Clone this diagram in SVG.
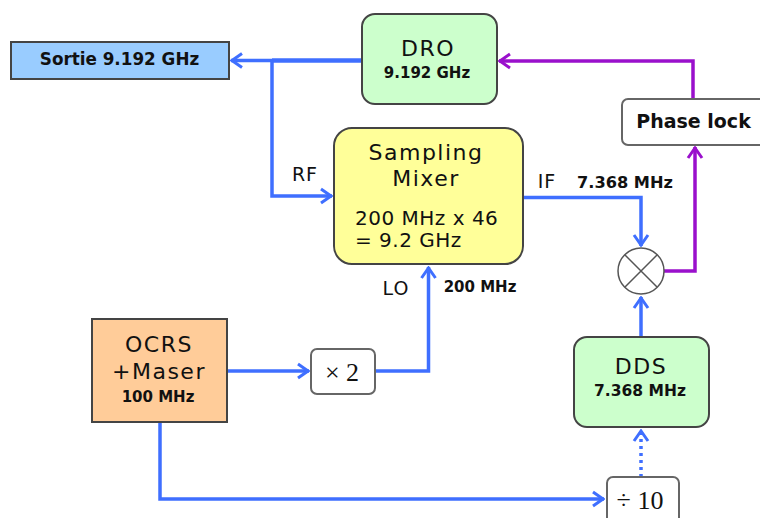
<svg xmlns="http://www.w3.org/2000/svg" width="760" height="518" viewBox="0 0 760 518">
<style>
text{font-family:"DejaVu Sans",Verdana,sans-serif;fill:#111;text-anchor:middle}
.n{font-size:22px;letter-spacing:1.500px}
.m{font-size:20px;letter-spacing:.5px;text-anchor:start}
.b{font-size:15px;font-weight:bold}
.l{font-size:19px;letter-spacing:1px}
.s{font-family:"Liberation Serif",serif;font-size:26px}
.box{stroke:#444;stroke-width:2}
.w{stroke:#666;stroke-width:2;fill:#fff}
.c{fill:none;stroke-width:3.500}
.blue{stroke:#3f6fff}
.pur{stroke:#9a10cc}
</style>
<defs>
<marker id="ab" viewBox="0 0 14 18" refX="13" refY="9" markerWidth="14" markerHeight="18" markerUnits="userSpaceOnUse" orient="auto"><path d="M2 2L12 9L2 16" fill="none" stroke="#3f6fff" stroke-width="3"/></marker>
<marker id="ap" viewBox="0 0 14 18" refX="13" refY="9" markerWidth="14" markerHeight="18" markerUnits="userSpaceOnUse" orient="auto"><path d="M2 2L12 9L2 16" fill="none" stroke="#9a10cc" stroke-width="3"/></marker>
</defs>
<rect width="760" height="518" fill="#fff"/>
<g id="connectors">
<path class="c blue" d="M362 60.500H272" style="stroke-width:4.500"/>
<path class="c blue" d="M272 60.500H231" marker-end="url(#ab)"/>
<path class="c blue" d="M272 60.500V196H332" marker-end="url(#ab)"/>
<path class="c blue" d="M523 197.500H641V246" marker-end="url(#ab)"/>
<path class="c blue" d="M228 371H309" marker-end="url(#ab)"/>
<path class="c blue" d="M375 371H428.500V267" marker-end="url(#ab)"/>
<path class="c blue" d="M160 423V499H604" marker-end="url(#ab)"/>
<path class="c blue" d="M641 337V297" marker-end="url(#ab)"/>
<path class="c blue" d="M641 477V430" stroke-dasharray="3 4" marker-end="url(#ab)"/>
<path class="c pur" d="M664 271H695V147" marker-end="url(#ap)"/>
<path class="c pur" d="M693 99V61H499" marker-end="url(#ap)"/>
</g>
<g id="sortie"><rect class="box" x="11" y="42" width="218" height="37" fill="#99ccff"/><text class="b" x="119.500" y="65" style="font-size:16.800px">Sortie 9.192 GHz</text></g>
<g id="dro"><rect class="box" x="362" y="14" width="135" height="90" rx="13" fill="#ccffcc"/><text class="n" x="428" y="56">DRO</text><text class="b" x="427" y="78">9.192 GHz</text></g>
<g id="mixer"><rect class="box" x="334" y="128" width="189" height="136" rx="18" fill="#ffff99"/><text class="n" x="426" y="160">Sampling</text><text class="n" x="426" y="186">Mixer</text><text class="m" x="355" y="225">200 MHz x 46</text><text class="m" x="355" y="247">= 9.2 GHz</text></g>
<g id="phase-lock"><rect class="w" x="622" y="99" width="150" height="46" rx="6"/><text class="b" x="693.500" y="128" style="font-size:19px">Phase lock</text></g>
<g id="mult"><circle cx="641" cy="271" r="23" fill="#fff" stroke="#555" stroke-width="1.500"/><path d="M625 255L657 287M657 255L625 287" stroke="#555" stroke-width="1.500" fill="none"/></g>
<g id="dds"><rect class="box" x="574" y="337" width="135" height="90" rx="13" fill="#ccffcc"/><text class="n" x="641" y="374">DDS</text><text class="b" x="640" y="396" style="font-size:15.500px">7.368 MHz</text></g>
<g id="div10"><rect class="w" x="607" y="477" width="72" height="60" rx="6"/><text class="s" x="640" y="509">÷ 10</text></g>
<g id="ocrs"><rect class="box" x="92" y="319" width="135" height="103" fill="#ffcc99"/><text class="n" x="159" y="352">OCRS</text><text class="n" x="159" y="379">+Maser</text><text class="b" x="158" y="402">100 MHz</text></g>
<g id="x2"><rect class="w" x="311" y="349" width="64" height="45" rx="6"/><text class="s" x="342" y="381">× 2</text></g>
<g id="labels">
<text class="l" x="305" y="181">RF</text>
<text class="l" x="547" y="188">IF</text>
<text class="b" x="625" y="188" style="font-size:16.200px">7.368 MHz</text>
<text class="l" x="396" y="295">LO</text>
<text class="b" x="480" y="292">200 MHz</text>
</g>
</svg>
